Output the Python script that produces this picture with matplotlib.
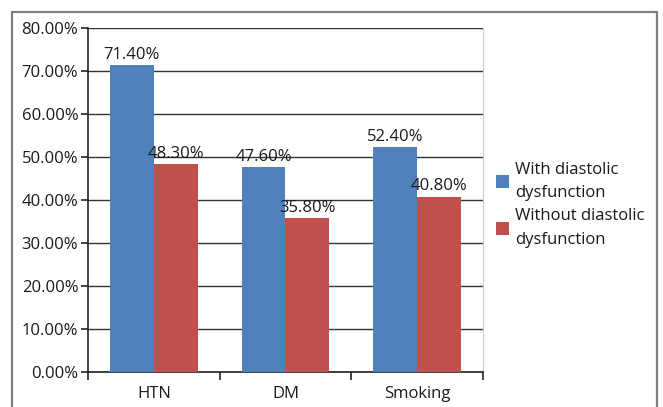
import matplotlib
matplotlib.use("Agg")
from matplotlib import pyplot as plt
from matplotlib.patches import Rectangle, Patch
import numpy as np

categories = ["HTN", "DM", "Smoking"]
with_dd = [71.4, 47.6, 52.4]
without_dd = [48.3, 35.8, 40.8]
series_names = ["With diastolic\ndysfunction", "Without diastolic\ndysfunction"]

plt.rcParams['font.family'] = ['Open Sans', 'DejaVu Sans']

blue = '#4F81BD'
red = '#C0504D'
text_color = '#1a1a1a'
fs = 12

fig = plt.figure(figsize=(6.63, 4.07), dpi=100)
ax = fig.add_axes([0.1327, 0.086, 0.5958, 0.8452])

index = np.arange(len(categories))
width = 1 / 3

bars_a = ax.bar(index - width / 2, with_dd, width, color=blue, zorder=3)
bars_b = ax.bar(index + width / 2, without_dd, width, color=red, zorder=3)

for bars, vals in ((bars_a, with_dd), (bars_b, without_dd)):
    for b, v in zip(bars, vals):
        ax.text(b.get_x() + b.get_width() / 2, v + 0.5, f"{v:.2f}%",
                ha='center', va='bottom', fontsize=fs, color=text_color,
                zorder=4)

ax.set_xlim(-0.5, 2.5)
ax.set_ylim(0, 80)
ax.set_yticks(np.arange(0, 81, 10))
ax.set_yticklabels([f"{t:.2f}%" for t in np.arange(0, 81, 10)])
ax.yaxis.grid(True, color='#333333', linewidth=1.0, zorder=0)
ax.set_axisbelow(True)

ax.set_xticks([-0.5, 0.5, 1.5, 2.5])
ax.set_xticklabels([])
ax.set_xticks(index, minor=True)
ax.set_xticklabels(categories, minor=True)
ax.tick_params(axis='x', which='major', direction='out', length=6,
               width=1.2, color='#222222')
ax.tick_params(axis='x', which='minor', length=0, pad=10,
               labelsize=fs, labelcolor=text_color)
ax.tick_params(axis='y', direction='out', length=5, width=1.2,
               color='#222222', labelsize=fs, labelcolor=text_color, pad=2)

for side in ('left', 'bottom'):
    ax.spines[side].set_color('#222222')
    ax.spines[side].set_linewidth(1.2)
ax.spines['top'].set_visible(False)
ax.spines['right'].set_color('#cccccc')
ax.spines['right'].set_linewidth(0.8)

# chart border
fig.patches.append(Rectangle((12 / 663, -0.1), 645 / 663, 1.1 - 12 / 407,
                             transform=fig.transFigure, fill=False,
                             edgecolor='#7f7f7f', linewidth=1.6))

handles = [Patch(facecolor=blue), Patch(facecolor=red)]
leg = fig.legend(handles, series_names, loc='center left',
                 bbox_to_anchor=(0.73, 0.497), frameon=False, fontsize=fs,
                 handlelength=0.8, handleheight=0.8, handletextpad=0.35,
                 labelspacing=0.45, borderpad=0.2, labelcolor=text_color)
for t in leg.get_texts():
    t.set_linespacing(1.6)

fig.savefig("out.png", dpi=100)
